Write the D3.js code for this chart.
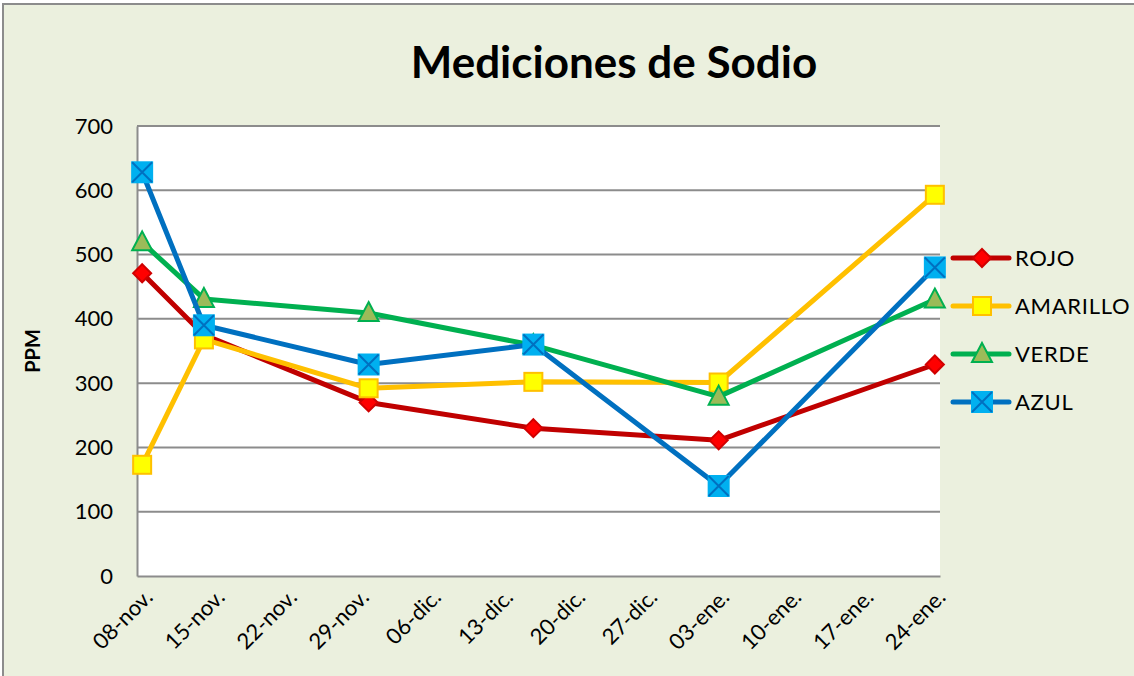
<!DOCTYPE html>
<html>
<head>
<meta charset="utf-8">
<script src="https://cdn.jsdelivr.net/npm/d3@7"></script>
<style>
  html, body { margin: 0; padding: 0; background: #fff; }
  svg { display: block; }
</style>
</head>
<body>
<svg id="chart"></svg>
<script>
const fechas = ["2010-11-08", "2010-11-14", "2010-11-30", "2010-12-16", "2011-01-03", "2011-01-24"];
const rojo = [471, 375, 270, 230, 211, 329];
const amarillo = [173, 368, 292, 302, 301, 593];
const verde = [519, 431, 409, 359, 279, 430];
const azul = [628, 390, 329, 360, 140, 480];
const yTicks = [0, 100, 200, 300, 400, 500, 600, 700];
const xTicks = ["2010-11-08", "2010-11-15", "2010-11-22", "2010-11-29", "2010-12-06", "2010-12-13",
  "2010-12-20", "2010-12-27", "2011-01-03", "2011-01-10", "2011-01-17", "2011-01-24"];
const meses = ["ene.", "feb.", "mar.", "abr.", "may.", "jun.", "jul.", "ago.", "sep.", "oct.", "nov.", "dic."];

const width = 1134, height = 676;
const font = "Lato, 'Open Sans', sans-serif";
const marginLeft = 137, marginRight = 194, marginTop = 126, marginBottom = 100;

const series = [
  { name: "ROJO", values: rojo, line: "#C00000", fill: "#FF0000", stroke: "#D00000", shape: "diamond" },
  { name: "AMARILLO", values: amarillo, line: "#FFC000", fill: "#FFFF00", stroke: "#FFC000", shape: "square" },
  { name: "VERDE", values: verde, line: "#00B050", fill: "#9BBB59", stroke: "#00B050", shape: "triangle" },
  { name: "AZUL", values: azul, line: "#0070C0", fill: "#00B0F0", stroke: "#0070C0", shape: "cross" },
];

const parse = d3.utcParse("%Y-%m-%d");
const noon = (s) => d3.utcHour.offset(parse(s), 12);

const x = d3.scaleUtc()
  .domain([parse("2010-11-08"), parse("2011-01-25")])
  .range([marginLeft, width - marginRight]);
const y = d3.scaleLinear().domain([0, 700]).range([height - marginBottom, marginTop]);

const svg = d3.select("#chart")
  .attr("width", width)
  .attr("height", height)
  .attr("viewBox", [0, 0, width, height]);

// fondo del gráfico
svg.append("rect")
  .attr("x", 3).attr("y", 4)
  .attr("width", width + 10).attr("height", height + 10)
  .attr("fill", "#EBF0DE")
  .attr("stroke", "#8C8C8C")
  .attr("stroke-width", 2);

svg.append("text")
  .attr("x", 614).attr("y", 78)
  .attr("text-anchor", "middle")
  .attr("font-family", font)
  .attr("font-weight", "bold")
  .attr("font-size", 44)
  .text("Mediciones de Sodio");

// área de trazado
svg.append("rect")
  .attr("x", marginLeft).attr("y", marginTop)
  .attr("width", width - marginLeft - marginRight)
  .attr("height", height - marginTop - marginBottom)
  .attr("fill", "#fff");

// cuadrícula
svg.append("g")
  .selectAll("line")
  .data(yTicks.filter((d) => d > 0))
  .join("line")
  .attr("x1", marginLeft).attr("x2", width - marginRight)
  .attr("y1", (d) => y(d)).attr("y2", (d) => y(d))
  .attr("stroke", "#8C8C8C")
  .attr("stroke-width", 2);

// eje y
const yAxis = svg.append("g")
  .attr("transform", `translate(${marginLeft},0)`)
  .call(d3.axisLeft(y).tickValues(yTicks).tickSize(0).tickPadding(24));
yAxis.select(".domain").attr("stroke", "#8C8C8C").attr("stroke-width", 2);
yAxis.selectAll("text").attr("font-family", font).attr("font-size", 22).attr("fill", "#000");

// eje x
const fmt = (d) => d3.utcFormat("%d")(d) + "-" + meses[d.getUTCMonth()];
const xAxis = svg.append("g")
  .attr("transform", `translate(0,${height - marginBottom})`)
  .call(d3.axisBottom(x).tickValues(xTicks.map(noon)).tickFormat(fmt).tickSize(0));
xAxis.select(".domain").attr("stroke", "#8C8C8C").attr("stroke-width", 2);
xAxis.selectAll("text")
  .attr("font-family", font).attr("font-size", 22).attr("fill", "#000")
  .attr("text-anchor", "end")
  .attr("transform", "translate(4,15) rotate(-45)")
  .attr("dy", "0.35em");

svg.append("text")
  .attr("transform", `translate(40,${y(350)}) rotate(-90)`)
  .attr("text-anchor", "middle")
  .attr("font-family", font)
  .attr("font-weight", "bold")
  .attr("font-size", 20)
  .text("PPM");

const symbols = {
  diamond: (g) => g.append("path").attr("d", "M0,-9L9,0L0,9L-9,0Z"),
  square: (g) => g.append("rect").attr("x", -9).attr("y", -9).attr("width", 18).attr("height", 18),
  triangle: (g) => g.append("path").attr("d", "M0,-11L10,8L-10,8Z"),
  cross: (g) => {
    g.append("rect").attr("x", -10).attr("y", -10).attr("width", 20).attr("height", 20);
    g.append("path").attr("d", "M-10,-10L10,10M10,-10L-10,10").attr("fill", "none");
  },
};

const drawMarker = (g, s) => {
  symbols[s.shape](g);
  g.selectAll("*").attr("stroke", s.stroke).attr("stroke-width", 2);
  g.selectAll("rect, path:not([fill])").attr("fill", s.fill);
  if (s.shape === "cross") g.select("rect").attr("stroke", s.fill);
};

const line = d3.line().x((d) => x(noon(d[0]))).y((d) => y(d[1]));

series.forEach((s) => {
  const pts = fechas.map((f, i) => [f, s.values[i]]);
  svg.append("path")
    .datum(pts)
    .attr("d", line)
    .attr("fill", "none")
    .attr("stroke", s.line)
    .attr("stroke-width", 5)
    .attr("stroke-linejoin", "round");
  svg.append("g").selectAll("g")
    .data(pts)
    .join("g")
    .attr("transform", (d) => `translate(${x(noon(d[0]))},${y(d[1])})`)
    .each(function () { drawMarker(d3.select(this), s); });
});

// leyenda
const legend = svg.append("g").attr("transform", "translate(953,258)");
series.forEach((s, i) => {
  const row = legend.append("g").attr("transform", `translate(0,${i * 48})`);
  row.append("line")
    .attr("x1", 0).attr("x2", 56)
    .attr("stroke", s.line).attr("stroke-width", 5).attr("stroke-linecap", "round");
  drawMarker(row.append("g").attr("transform", "translate(29,0)"), s);
  row.append("text")
    .attr("x", 62).attr("y", 0).attr("dy", "0.35em")
    .attr("font-family", font).attr("font-size", 22)
    .attr("letter-spacing", 0.7)
    .text(s.name);
});
</script>
</body>
</html>
